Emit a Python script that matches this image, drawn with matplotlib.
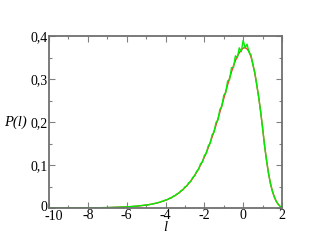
# ================================
# 1. IMPORT LIBRARIES
# ================================
import numpy as np
import matplotlib
matplotlib.use("Agg")
import matplotlib.pyplot as plt
import matplotlib.transforms as mtransforms
from matplotlib.ticker import MultipleLocator

# ================================
# 2. DATA
# ================================
l_tail = [-10.0, -9.0, -8.0, -7.0, -6.0, -5.5]
l_core = list(np.round(np.arange(-5.0, 2.05, 0.1), 1))
l_values = l_tail + l_core

p_fit_tail = [0.0000, 0.0001, 0.0003, 0.0009, 0.0025, 0.0041]
p_fit_core = [
    0.0067, 0.0074, 0.0082, 0.0090, 0.0100, 0.0110, 0.0121, 0.0134, 0.0148, 0.0163,
    0.0180, 0.0198, 0.0219, 0.0241, 0.0266, 0.0293, 0.0323, 0.0355, 0.0391, 0.0431,
    0.0474, 0.0521, 0.0572, 0.0628, 0.0690, 0.0756, 0.0829, 0.0907, 0.0992, 0.1083,
    0.1182, 0.1288, 0.1401, 0.1522, 0.1650, 0.1785, 0.1927, 0.2075, 0.2229, 0.2387,
    0.2546, 0.2707, 0.2867, 0.3022, 0.3170, 0.3307, 0.3429, 0.3531, 0.3611, 0.3670,
    0.3720, 0.3730, 0.3700, 0.3640, 0.3520, 0.3350, 0.3130, 0.2870, 0.2570, 0.2240,
    0.1860, 0.1460, 0.1120, 0.0820, 0.0580, 0.0400, 0.0260, 0.0160, 0.0090, 0.0040,
    0.0000,
]
p_fit = p_fit_tail + p_fit_core

p_sim_tail = [0.0000, 0.0001, 0.0004, 0.0010, 0.0027, 0.0043]
p_sim_core = [
    0.0070, 0.0072, 0.0085, 0.0088, 0.0104, 0.0108, 0.0126, 0.0131, 0.0155, 0.0160,
    0.0188, 0.0194, 0.0228, 0.0233, 0.0275, 0.0288, 0.0330, 0.0352, 0.0405, 0.0425,
    0.0492, 0.0512, 0.0590, 0.0615, 0.0712, 0.0748, 0.0852, 0.0896, 0.1028, 0.1068,
    0.1220, 0.1272, 0.1445, 0.1502, 0.1705, 0.1762, 0.1990, 0.2045, 0.2295, 0.2355,
    0.2625, 0.2675, 0.2955, 0.2985, 0.3265, 0.3265, 0.3540, 0.3495, 0.3725, 0.3635,
    0.3900, 0.3720, 0.3810, 0.3620, 0.3565, 0.3330, 0.3150, 0.2860, 0.2580, 0.2235,
    0.1865, 0.1458, 0.1122, 0.0818, 0.0581, 0.0399, 0.0261, 0.0159, 0.0090, 0.0040,
    0.0000,
]
p_sim = p_sim_tail + p_sim_core

x_ticks = [-10, -8, -6, -4, -2, 0, 2]
x_ticklabels = ["-10", "-8", "-6", "-4", "-2", "0", "2"]
y_ticks = [0.0, 0.1, 0.2, 0.3, 0.4]
y_ticklabels = ["0", "0,1", "0,2", "0,3", "0,4"]

# ================================
# 3. PLOT
# ================================
plt.rcParams["font.family"] = ["Liberation Serif", "DejaVu Serif"]

fig = plt.figure(figsize=(3.17, 2.45), dpi=100)
ax = fig.add_axes([0.1546, 0.151, 0.735, 0.702])

ax.plot(l_values, p_fit, color="#ff3030", lw=1.0)
ax.plot(l_values, p_sim, color="#00ee00", lw=1.0)

ax.set_xlim(-10, 2)
ax.set_ylim(0, 0.4)

ax.set_xticks(x_ticks)
ax.set_xticklabels(x_ticklabels)
ax.set_yticks(y_ticks)
ax.set_yticklabels(y_ticklabels)
ax.xaxis.set_minor_locator(MultipleLocator(1))
ax.yaxis.set_minor_locator(MultipleLocator(0.05))

ax.tick_params(which="both", direction="in", top=True, right=True,
               color="#808080", width=0.8, labelsize=10, pad=1.0)
ax.tick_params(which="major", length=4)
ax.tick_params(which="minor", length=2)

# "-10" sits a little to the right and the y "0" a little higher in the original
first_x = ax.get_xticklabels()[0]
first_x.set_transform(first_x.get_transform() +
                      mtransforms.ScaledTranslation(0.05, -0.01, fig.dpi_scale_trans))
first_y = ax.get_yticklabels()[0]
first_y.set_transform(first_y.get_transform() +
                      mtransforms.ScaledTranslation(0, 0.025, fig.dpi_scale_trans))

for s in ax.spines.values():
    s.set_color("#707070")
    s.set_linewidth(1.3)

ax.text(-0.094, 0.5, "P(l)", transform=ax.transAxes, ha="right", va="center",
        fontsize=10.5, style="italic")
ax.text(0.5, -0.113, "l", transform=ax.transAxes, ha="center", va="center",
        fontsize=10.5, style="italic")

plt.savefig("out.png", dpi=100)
